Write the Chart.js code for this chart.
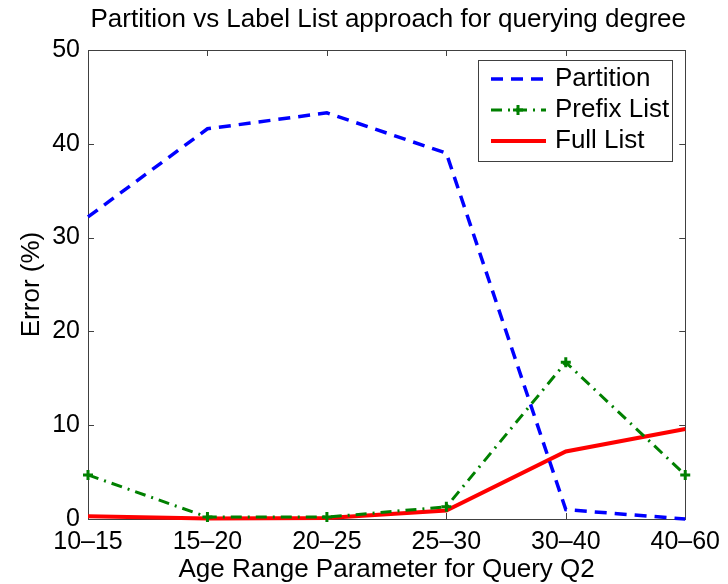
<!DOCTYPE html>
<html>
<head>
<meta charset="utf-8">
<script src="https://cdn.jsdelivr.net/npm/chart.js@4.4.1/dist/chart.umd.min.js"></script>
<style>
    html, body { margin: 0; padding: 0; background: #fff; }
    #wrap { width: 728px; height: 584px; }
</style>
</head>
<body>
<div id="wrap"><canvas id="errorChart"></canvas></div>
<script>
// values
const ageRanges = ['10–15', '15–20', '20–25', '25–30', '30–40', '40–60'];
const partitionError = [32.2, 41.6, 43.3, 39.0, 1.0, 0.0];
const prefixListError = [4.7, 0.2, 0.2, 1.3, 16.7, 4.7];
const fullListError = [0.3, 0.05, 0.1, 0.9, 7.2, 9.6];
const errorTicks = [0, 10, 20, 30, 40, 50];

const FONT = '"Liberation Sans", Arial, Helvetica, sans-serif';
const AXIS_COLOR = '#404040';

Chart.defaults.font.family = FONT;
Chart.defaults.color = '#000';

// box around the plot area with small inward ticks on all four sides
const matlabFrame = {
    id: 'matlabFrame',
    beforeDatasetsDraw(chart) {
        const { ctx, chartArea: a, scales: { x, y } } = chart;
        const len = 6;
        ctx.save();
        ctx.strokeStyle = AXIS_COLOR;
        ctx.lineWidth = 1;
        ctx.strokeRect(Math.round(a.left) + 0.5, Math.round(a.top) + 0.5,
            Math.round(a.right - a.left), Math.round(a.bottom - a.top));
        ctx.beginPath();
        x.ticks.forEach((t, i) => {
            const px = Math.round(x.getPixelForTick(i)) + 0.5;
            ctx.moveTo(px, a.bottom); ctx.lineTo(px, a.bottom - len);
            ctx.moveTo(px, a.top); ctx.lineTo(px, a.top + len);
        });
        y.ticks.forEach((t, i) => {
            const py = Math.round(y.getPixelForTick(i)) + 0.5;
            ctx.moveTo(a.left, py); ctx.lineTo(a.left + len, py);
            ctx.moveTo(a.right, py); ctx.lineTo(a.right - len, py);
        });
        ctx.stroke();
        ctx.restore();
    },
};

// boxed legend in the upper right corner of the plot area
const boxLegend = {
    id: 'boxLegend',
    afterDraw(chart) {
        const { ctx, chartArea: a } = chart;
        const w = 194, h = 101;
        const left = Math.round(a.right - 13 - w);
        const top = Math.round(a.top + 10);
        ctx.save();
        ctx.fillStyle = '#fff';
        ctx.fillRect(left, top, w, h);
        ctx.strokeStyle = AXIS_COLOR;
        ctx.lineWidth = 1;
        ctx.strokeRect(left + 0.5, top + 0.5, w, h);
        ctx.font = '26px ' + FONT;
        ctx.textBaseline = 'middle';
        chart.data.datasets.forEach((ds, i) => {
            const cy = top + 19 + i * 31;
            ctx.strokeStyle = ds.borderColor;
            ctx.lineWidth = ds.borderWidth;
            ctx.setLineDash(ds.borderDash || []);
            ctx.beginPath();
            ctx.moveTo(left + 13, cy);
            ctx.lineTo(left + 68, cy);
            ctx.stroke();
            ctx.setLineDash([]);
            if (ds.pointRadius > 0) {
                ctx.strokeStyle = ds.pointBorderColor;
                ctx.fillStyle = ds.pointBorderColor;
                ctx.lineWidth = ds.pointBorderWidth;
                Chart.helpers.drawPoint(ctx, {
                    pointStyle: ds.pointStyle,
                    radius: ds.pointRadius,
                    borderWidth: ds.pointBorderWidth,
                    rotation: 0,
                }, left + 40, cy);
            }
            ctx.fillStyle = '#000';
            ctx.fillText(ds.label, left + 77, cy);
        });
        ctx.restore();
    },
};

new Chart(document.getElementById('errorChart'), {
    type: 'line',
    data: {
        labels: ageRanges,
        datasets: [
            {
                label: 'Partition',
                data: partitionError,
                borderColor: '#0000ff',
                borderWidth: 3.5,
                borderDash: [12, 8],
                pointRadius: 0,
                tension: 0,
                clip: false,
            },
            {
                label: 'Prefix List',
                data: prefixListError,
                borderColor: '#008000',
                borderWidth: 3,
                borderDash: [11, 6, 2, 6],
                pointStyle: 'cross',
                pointRadius: 5,
                pointBorderColor: '#008000',
                pointBorderWidth: 3,
                tension: 0,
                clip: false,
            },
            {
                label: 'Full List',
                data: fullListError,
                borderColor: '#ff0000',
                borderWidth: 4,
                pointRadius: 0,
                tension: 0,
                clip: false,
            },
        ],
    },
    options: {
        responsive: true,
        maintainAspectRatio: false,
        animation: false,
        layout: { padding: { top: 0, left: 0, right: 42, bottom: 0 } },
        plugins: {
            legend: { display: false },
            tooltip: { enabled: false },
            title: {
                display: true,
                align: 'end',
                text: 'Partition vs Label List approach for querying degree',
                font: { size: 26, weight: 'normal', lineHeight: 1 },
                padding: { top: 7, bottom: 17 },
            },
        },
        scales: {
            x: {
                type: 'category',
                offset: false,
                grid: { display: false, drawTicks: false },
                border: { display: false },
                ticks: { font: { size: 25 }, padding: 8, maxRotation: 0, autoSkip: false },
                title: {
                    display: true,
                    text: 'Age Range Parameter for Query Q2',
                    font: { size: 26, lineHeight: 1 },
                    padding: { top: 0, bottom: 1 },
                },
                afterFit: (s) => { s.height = 65; },
            },
            y: {
                min: 0,
                max: 50,
                grid: { display: false, drawTicks: false },
                border: { display: false },
                ticks: { font: { size: 25 }, padding: 8 },
                afterBuildTicks: (s) => { s.ticks = errorTicks.map(v => ({ value: v })); },
                title: {
                    display: true,
                    text: 'Error (%)',
                    font: { size: 26, lineHeight: 1 },
                    padding: { top: 19, bottom: 0 },
                },
                afterFit: (s) => { s.width = 88; },
            },
        },
    },
    plugins: [matlabFrame, boxLegend],
});
</script>
</body>
</html>
